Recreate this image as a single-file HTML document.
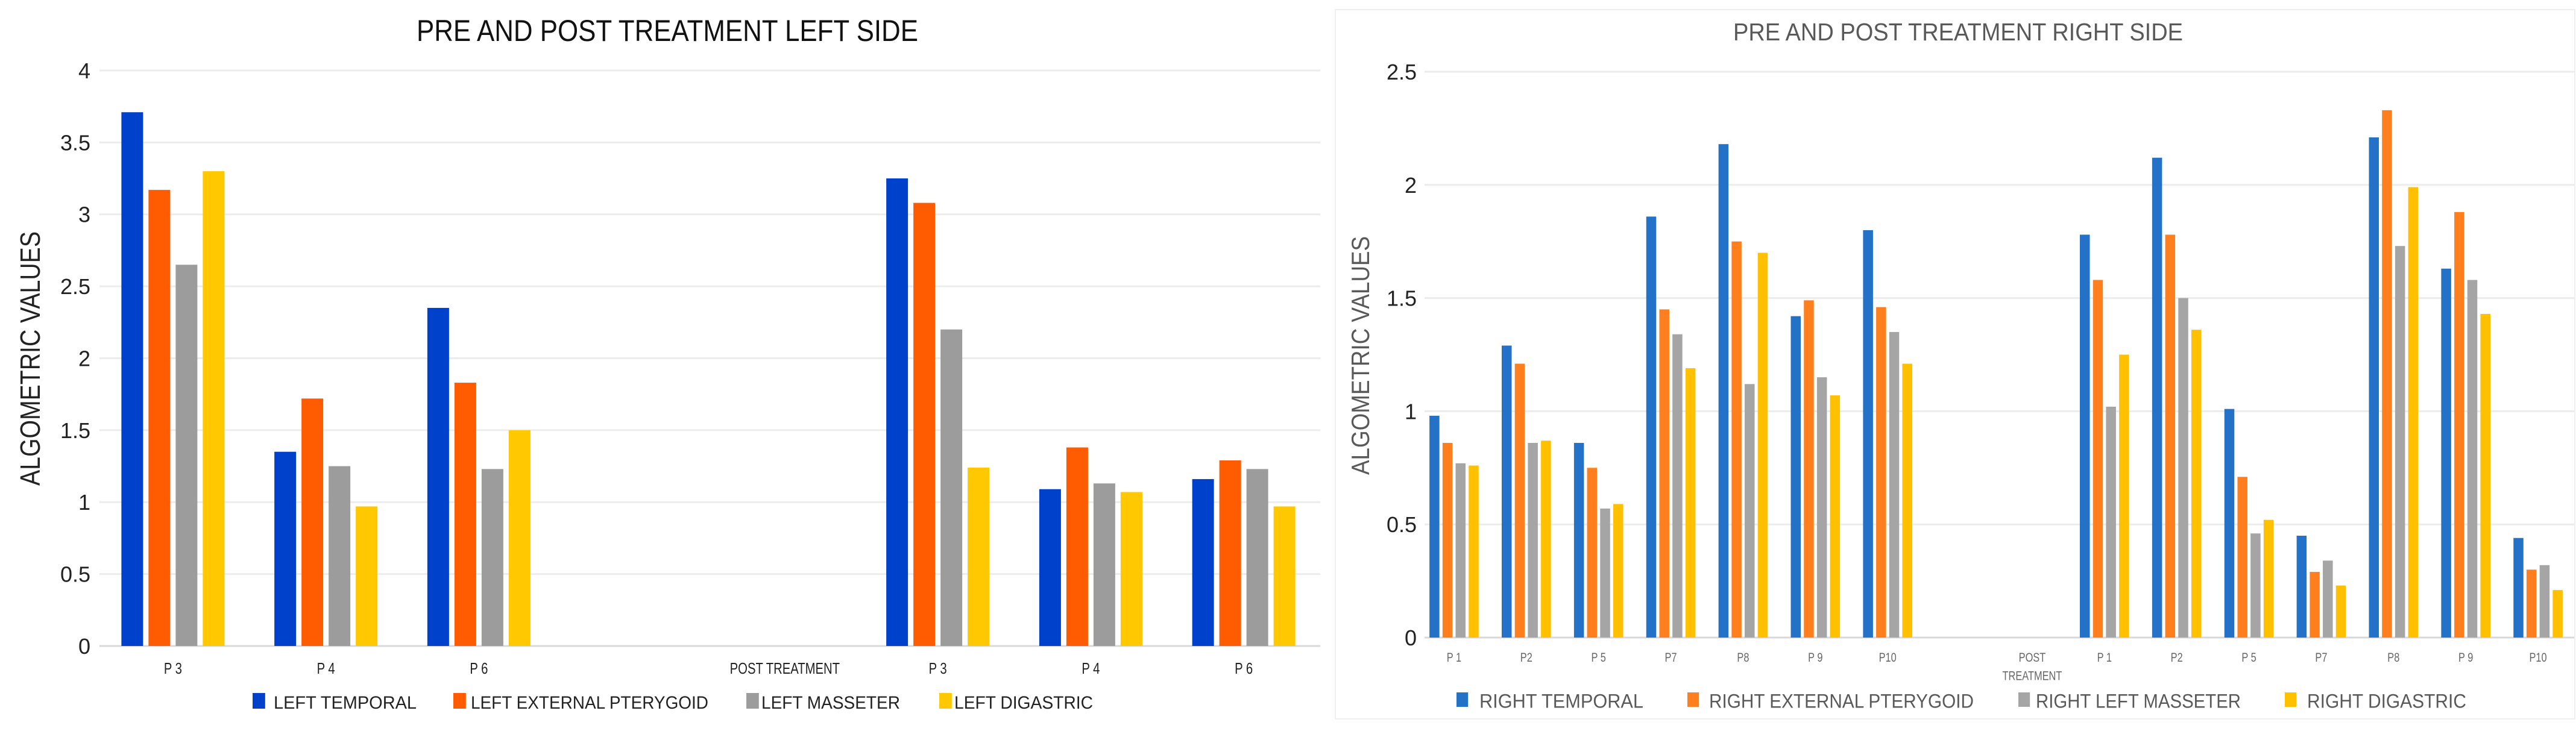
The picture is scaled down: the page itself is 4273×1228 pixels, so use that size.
<!DOCTYPE html>
<html><head><meta charset="utf-8">
<style>
html,body{margin:0;padding:0;background:#fff;width:4273px;height:1228px;overflow:hidden}
svg{display:block}
text{font-family:"Liberation Sans",sans-serif}
</style></head>
<body>
<svg id="svg" width="4273" height="1228" xmlns="http://www.w3.org/2000/svg">
<rect x="2215" y="16" width="2056" height="1177" fill="none" stroke="#efefef" stroke-width="2"/>
</svg>
<script>
// LEFT chart data
const leftCategories = ["P 3","P 4","P 6","","POST TREATMENT","P 3","P 4","P 6"];
const leftTemporal   = [3.71,1.35,2.35,null,null,3.25,1.09,1.16];
const leftPterygoid  = [3.17,1.72,1.83,null,null,3.08,1.38,1.29];
const leftMasseter   = [2.65,1.25,1.23,null,null,2.20,1.13,1.23];
const leftDigastric  = [3.30,0.97,1.50,null,null,1.24,1.07,0.97];
const leftTicks = [0,0.5,1,1.5,2,2.5,3,3.5,4];
const leftSeriesNames = ["LEFT TEMPORAL","LEFT EXTERNAL PTERYGOID","LEFT MASSETER","LEFT DIGASTRIC"];

// RIGHT chart data
const rightCategories = ["P 1","P2","P 5","P7","P8","P 9","P10","","POST|TREATMENT","P 1","P2","P 5","P7","P8","P 9","P10"];
const rightTemporal  = [0.98,1.29,0.86,1.86,2.18,1.42,1.80,null,null,1.78,2.12,1.01,0.45,2.21,1.63,0.44];
const rightPterygoid = [0.86,1.21,0.75,1.45,1.75,1.49,1.46,null,null,1.58,1.78,0.71,0.29,2.33,1.88,0.30];
const rightMasseter  = [0.77,0.86,0.57,1.34,1.12,1.15,1.35,null,null,1.02,1.50,0.46,0.34,1.73,1.58,0.32];
const rightDigastric = [0.76,0.87,0.59,1.19,1.70,1.07,1.21,null,null,1.25,1.36,0.52,0.23,1.99,1.43,0.21];
const rightTicks = [0,0.5,1,1.5,2,2.5];
const rightSeriesNames = ["RIGHT TEMPORAL","RIGHT EXTERNAL PTERYGOID","RIGHT LEFT MASSETER","RIGHT DIGASTRIC"];

const NS="http://www.w3.org/2000/svg";
const svg=document.getElementById('svg');
function mk(tag,attrs,parent){const e=document.createElementNS(NS,tag);for(const k in attrs)e.setAttribute(k,attrs[k]);(parent||svg).appendChild(e);return e;}

function drawChart(cfg){
  const g=mk('g',{});
  
  
  const yScale=v=>cfg.y0-(v-cfg.min)/(cfg.max-cfg.min)*(cfg.y0-cfg.y1);
  const catW=(cfg.x1-cfg.x0)/cfg.categories.length;
  // gridlines + ticks
  cfg.ticks.forEach(t=>{
    const y=yScale(t);
    const l=mk('line',{x1:cfg.gridStart,x2:cfg.x1,y1:y,y2:y,stroke:t===0?'#d9d9d9':'#ececec','stroke-width':3},g);
    
    
    const tx=mk('text',{x:cfg.tickX,y:y+cfg.tickFont*0.36,'text-anchor':'end','font-size':cfg.tickFont,fill:'#222'},g);
    tx.textContent=String(t);
    
    
  });
  // bars
  const series=cfg.series;
  series.forEach((vals,si)=>{
    vals.forEach((v,ci)=>{
      if(v===null)return;
      const cx=cfg.x0+catW*(ci+0.5);
      const gw=cfg.step*3+cfg.barW;
      const x=cx-gw/2+si*cfg.step;
      const y=yScale(v);
      const r=mk('rect',{x:x,y:y,width:cfg.barW,height:yScale(0)-y,fill:cfg.colors[si]},g);
      
      
    });
  });
  // category labels
  cfg.categories.forEach((c,ci)=>{
    if(!c)return;
    const cx=cfg.x0+catW*(ci+0.5);
    const parts=c.split('|');
    parts.forEach((p,pi)=>{
      const t=mk('text',{x:cx,y:cfg.catY+pi*cfg.catFont*1.45,'text-anchor':'middle','font-size':cfg.catFont,fill:cfg.catColor,transform:`translate(${cx} 0) scale(0.78 1) translate(${-cx} 0)`},g);
      t.textContent=p;
      
      
    });
  });
  // title
  const tt=mk('text',{x:cfg.titleX,y:cfg.titleY,'font-size':cfg.titleFont,fill:cfg.titleColor,textLength:cfg.titleLen,lengthAdjust:'spacingAndGlyphs'},g);
  tt.textContent=cfg.title;
  
  
  // axis title
  const at=mk('text',{x:0,y:0,'text-anchor':'middle','font-size':cfg.axisFont,fill:cfg.axisColor,textLength:cfg.axisLen,lengthAdjust:'spacingAndGlyphs',transform:`translate(${cfg.axisX} ${cfg.axisY}) rotate(-90)`},g);
  at.textContent='ALGOMETRIC VALUES';
  
  
  // legend
  cfg.legend.forEach((L,i)=>{
    const s=mk('rect',{x:L[0],y:cfg.legY-cfg.legSq/2-2,width:cfg.legSq*0.8,height:cfg.legSq,fill:cfg.colors[i]},g);
    
    
    const t=mk('text',{x:L[1],y:cfg.legY+cfg.legFont*0.36,'font-size':cfg.legFont,fill:cfg.legColor,textLength:L[2],lengthAdjust:'spacingAndGlyphs'},g);
    t.textContent=cfg.seriesNames[i];
    
    
  });
}

drawChart({
  id:'left',categories:leftCategories,series:[leftTemporal,leftPterygoid,leftMasseter,leftDigastric],
  seriesNames:leftSeriesNames,ticks:leftTicks,min:0,max:4,
  x0:160,x1:2190,gridStart:165,y0:1072,y1:117,barW:36,step:45,
  colors:['#0041CC','#FF5B00','#9C9C9C','#FFC800'],
  tickX:150,tickFont:36,catY:1118,catFont:26,catColor:'#222',
  title:'PRE AND POST TREATMENT LEFT SIDE',titleX:691,titleY:68,titleFont:50,titleLen:832,titleColor:'#111',
  axisX:66,axisY:595,axisFont:46,axisLen:422,axisColor:'#222',
  legY:1165,legSq:26,legFont:30,legColor:'#222',
  legend:[[419,454,237],[752,781,394],[1238,1263,230],[1558,1583,230]]
});
drawChart({
  id:'right',categories:rightCategories,series:[rightTemporal,rightPterygoid,rightMasseter,rightDigastric],
  seriesNames:rightSeriesNames,ticks:rightTicks,min:0,max:2.5,
  x0:2352,x1:4270,gridStart:2363,y0:1058,y1:119,barW:16.5,step:21.7,
  colors:['#2471C8','#FF7F1E','#A5A5A5','#FFC000'],
  tickX:2350,tickFont:36,catY:1098,catFont:21,catColor:'#666',
  title:'PRE AND POST TREATMENT  RIGHT  SIDE',titleX:2875,titleY:67,titleFont:41,titleLen:746,titleColor:'#595959',
  axisX:2271,axisY:590,axisFont:42,axisLen:396,axisColor:'#595959',
  legY:1163,legSq:24,legFont:32,legColor:'#595959',
  legend:[[2416,2454,272],[2799,2835,439],[3348,3377,340],[3790,3827,264]]
});
</script>
</body></html>
